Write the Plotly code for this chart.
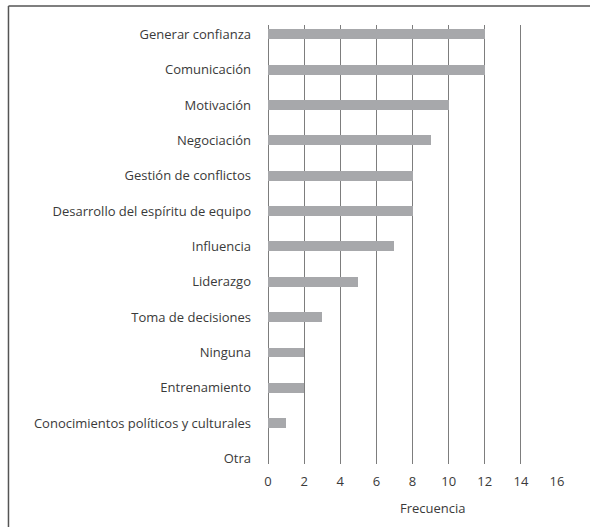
import plotly.graph_objects as go

categories = [
    "Generar confianza",
    "Comunicación",
    "Motivación",
    "Negociación",
    "Gestión de conflictos",
    "Desarrollo del espíritu de equipo",
    "Influencia",
    "Liderazgo",
    "Toma de decisiones",
    "Ninguna",
    "Entrenamiento",
    "Conocimientos políticos y culturales",
    "Otra",
]
values = [12, 12, 10, 9, 8, 8, 7, 5, 3, 2, 2, 1, 0]
x_ticks = [0, 2, 4, 6, 8, 10, 12, 14, 16]
x_title = "Frecuencia"

FONT = "Open Sans"
TEXT = "#3a3a3a"

fig = go.Figure(
    go.Bar(
        x=values,
        y=categories,
        orientation="h",
        marker=dict(color="#a7a8ab", line=dict(width=0)),
        width=0.28,
    )
)

fig.update_layout(
    width=590,
    height=527,
    margin=dict(l=268, r=33, t=25, b=63),
    paper_bgcolor="white",
    plot_bgcolor="white",
    showlegend=False,
    font=dict(family=FONT, size=13, color=TEXT),
    bargap=0,
)

fig.update_xaxes(
    range=[0, 16],
    tickvals=x_ticks,
    ticktext=[str(t) for t in x_ticks],
    showgrid=True,
    gridcolor="#7d7d7d",
    gridwidth=1,
    zeroline=True,
    zerolinecolor="#7d7d7d",
    zerolinewidth=1,
    showline=False,
    ticks="",
    ticklabelstandoff=8,
    tickfont=dict(family=FONT, size=13, color=TEXT),
    fixedrange=True,
)

fig.update_yaxes(
    type="category",
    categoryorder="array",
    categoryarray=categories,
    range=[12.153, -0.263],
    showgrid=False,
    zeroline=False,
    showline=False,
    ticks="",
    ticklabelstandoff=16,
    tickfont=dict(family=FONT, size=13, color=TEXT),
    fixedrange=True,
)

fig.add_annotation(
    text=x_title,
    xref="paper",
    yref="paper",
    x=0.571,
    y=0,
    yshift=-44,
    xanchor="center",
    yanchor="middle",
    showarrow=False,
    font=dict(family=FONT, size=13, color=TEXT),
)

# frame around the figure (only top and left edges visible in the crop)
frame = dict(color="#555555", width=1.5)
left_x = -0.898
top_y = 1.0433
fig.add_shape(type="line", xref="paper", yref="paper",
              x0=left_x, x1=1.2, y0=top_y, y1=top_y, line=frame, layer="above")
fig.add_shape(type="line", xref="paper", yref="paper",
              x0=left_x, x1=left_x, y0=-0.2, y1=top_y, line=frame, layer="above")

fig.write_html(
    "out.html",
    config={"displayModeBar": False},
    post_script="document.body.style.margin='0';document.body.style.overflow='hidden';",
)
